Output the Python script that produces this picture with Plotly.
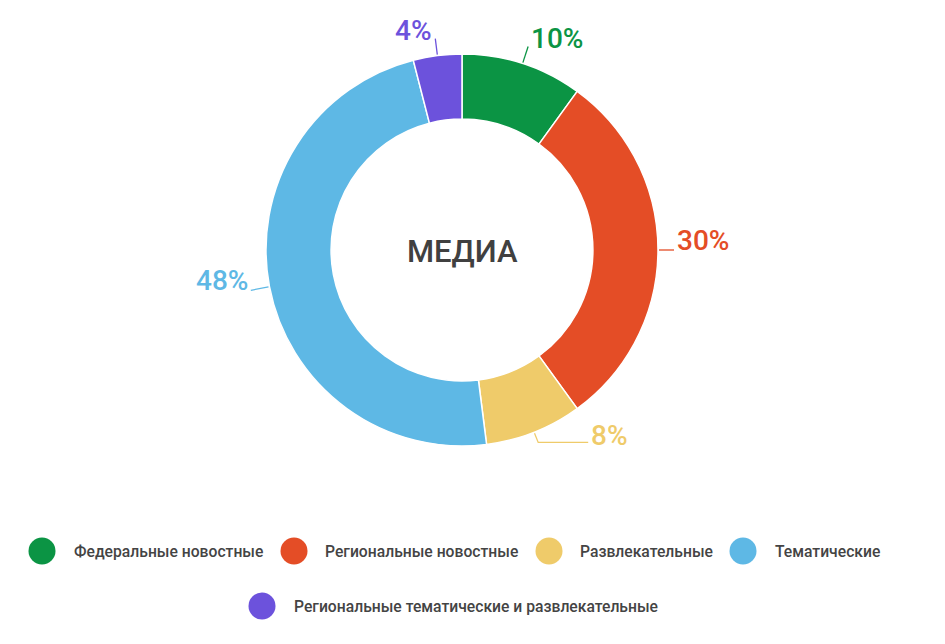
import math
import plotly.graph_objects as go

# ---------------- data ----------------
categories = [
    "Федеральные новостные",
    "Региональные новостные",
    "Развлекательные",
    "Тематические",
    "Региональные тематические и развлекательные",
]
values = [10, 30, 8, 48, 4]
colors = ["#0B9444", "#E44D26", "#EFCB6A", "#5EB8E5", "#6C52DC"]
center_title = "МЕДИА"

# ---------------- layout constants ----------------
W, H = 945, 644
CX, CY, R = 462, 250, 196          # pie centre / outer radius (px)
HOLE = 0.668
# leader line per label: (radial length px, horizontal extension px, extra y shift)
leader = [(17, 0, 2), (15, 0, 0), (10, 50, 3), (18, 0, 0), (16, 0, 1)]
# legend slots: (circle centre x, centre y, text left x)
legend_slots = [(42, 551, 72), (294, 551, 323), (549, 551, 578),
                (743, 551, 773), (262, 606, 292)]

def px(x):
    return x / W

def py(y):
    return 1 - y / H

fig = go.Figure()
fig.add_trace(go.Pie(
    labels=categories,
    values=values,
    marker=dict(colors=colors, line=dict(color="white", width=1.5)),
    hole=HOLE,
    sort=False,
    direction="clockwise",
    rotation=0,
    textinfo="none",
    showlegend=False,
    domain=dict(x=[px(CX - R), px(CX + R)], y=[py(CY + R), py(CY - R)]),
))

total = sum(values)
shapes = []
annotations = []
cum = 0
for v, col, (L, Hx, dy) in zip(values, colors, leader):
    theta = 2 * math.pi * (cum + v / 2) / total
    cum += v
    s, c = math.sin(theta), -math.cos(theta)
    x0, y0 = CX + (R + 1) * s, CY + (R + 1) * c
    x1, y1 = CX + (R + 1 + L) * s, CY + (R + 1 + L) * c
    side = 1 if s >= 0 else -1
    x2, y2 = x1 + side * Hx, y1
    shapes.append(dict(
        type="path", xref="paper", yref="paper",
        path=f"M {px(x0)},{py(y0)} L {px(x1)},{py(y1)} L {px(x2)},{py(y2)}",
        line=dict(color=col, width=1.3),
    ))
    pct = round(100 * v / total)
    annotations.append(dict(
        x=px(x2 + side * 1), y=py(y2 + dy), xref="paper", yref="paper",
        text=f"{pct}%", showarrow=False,
        xanchor="left" if side > 0 else "right", yanchor="bottom",
        yshift=-9,
        font=dict(family="Roboto", size=28, color=col, weight=500),
    ))

annotations.append(dict(
    x=px(CX), y=py(CY + 2), xref="paper", yref="paper",
    text=center_title, showarrow=False, xanchor="center", yanchor="middle",
    font=dict(family="Roboto", size=31, color="#404040", weight=500),
))

for cat, col, (lx, ly, tx) in zip(categories, colors, legend_slots):
    shapes.append(dict(
        type="circle", xref="paper", yref="paper",
        xsizemode="pixel", ysizemode="pixel",
        xanchor=px(lx), yanchor=py(ly),
        x0=-13.5, x1=13.5, y0=-13.5, y1=13.5,
        fillcolor=col, line=dict(width=0),
    ))
    annotations.append(dict(
        x=px(tx), y=py(ly), xref="paper", yref="paper",
        text=cat, showarrow=False, xanchor="left", yanchor="middle",
        font=dict(family="Roboto", size=15.7, color="#444444", weight=500),
    ))

fig.update_layout(
    width=W, height=H,
    margin=dict(l=0, r=0, t=0, b=0),
    paper_bgcolor="white", plot_bgcolor="white",
    shapes=shapes, annotations=annotations,
    showlegend=False,
)

fig.write_html("out.html")
